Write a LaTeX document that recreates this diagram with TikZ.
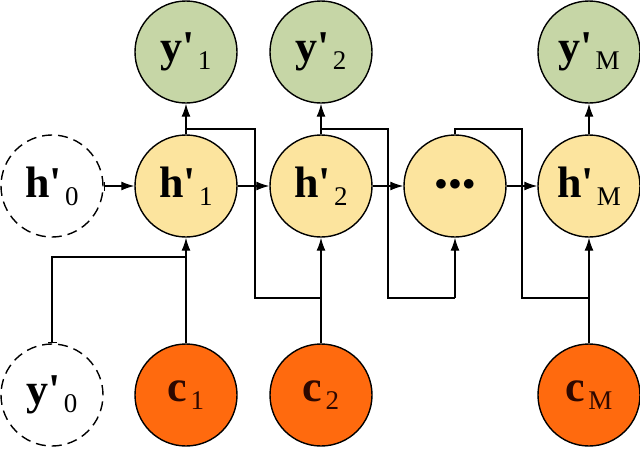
\documentclass[tikz,border=0pt]{standalone}
\usepackage{fontspec}
\newfontfamily\lab{Liberation Serif}
\usetikzlibrary{arrows.meta}
\definecolor{cgreen}{RGB}{198,214,166}
\definecolor{cyellow}{RGB}{252,228,158}
\definecolor{corange}{RGB}{255,106,14}
\newcommand{\nlab}[2]{{\lab\fontsize{44}{44}\selectfont\bfseries #1}\hspace{3pt}\raisebox{-8pt}{\lab\fontsize{27}{27}\selectfont #2}}
\begin{document}
\begin{tikzpicture}[x=1pt,y=-1pt,
  every node/.style={inner sep=0pt},
  base/.style={circle,draw=black,line width=1.4pt,minimum size=102pt},
  ynode/.style={base,fill=cgreen},
  hnode/.style={base,fill=cyellow},
  cnode/.style={base,fill=corange,text={rgb,255:red,45;green,8;blue,0}},
  ghost/.style={base,dash pattern=on 10pt off 6pt,fill=white},
  conn/.style={line width=1.3pt},
  arr/.style={conn,-{Latex[length=13pt,width=9pt]}},
  bararr/.style={conn,{Bar[width=9pt]}-{Latex[length=13pt,width=9pt]}}]
\useasboundingbox (0,0) rectangle (640,448);
% nodes
\node[ynode] (y1) at (186,52) {\nlab{y'}{1}};
\node[ynode] (y2) at (321,52) {\nlab{y'}{2}};
\node[ynode] (yM) at (589,52) {\nlab{y'}{M}};
\node[ghost] (h0) at (52,186) {\nlab{h'}{0}};
\node[hnode] (h1) at (186,186) {\nlab{h'}{1}};
\node[hnode] (h2) at (321,186) {\nlab{h'}{2}};
\node[hnode] (hd) at (455,186) {\lab\fontsize{46}{46}\selectfont\bfseries\raisebox{2pt}{$\bullet\mkern-3mu\bullet\mkern-3mu\bullet$}};
\node[hnode] (hM) at (589,186) {\nlab{h'}{M}};
\node[ghost] (y0) at (52,395) {\nlab{y'}{0}};
\node[cnode] (c1) at (186,395) {\nlab{c}{1}};
\node[cnode] (c2) at (321,395) {\nlab{c}{2}};
\node[cnode] (cM) at (589,395) {\nlab{c}{M}};
% coordinates
\coordinate (t1) at (186,129);
\coordinate (t2) at (321,129);
\coordinate (t3) at (455,129);
\coordinate (a1) at (255,129);
\coordinate (a2) at (388,129);
\coordinate (a3) at (522,129);
\coordinate (b1) at (255,298);
\coordinate (b2) at (388,298);
\coordinate (b3) at (522,298);
\coordinate (m2) at (321,298);
\coordinate (m3) at (455,298);
\coordinate (mM) at (589,298);
\coordinate (u0) at (52,257);
\coordinate (u1) at (186,257);
% connectors
\draw[bararr] (h0) -- (h1);
\draw[arr] (h1) -- (h2);
\draw[arr] (h2) -- (hd);
\draw[arr] (hd) -- (hM);
\draw[arr] (h1) -- (y1);
\draw[arr] (h2) -- (y2);
\draw[arr] (hM) -- (yM);
\draw[arr] (c1) -- (h1);
\draw[arr] (c2) -- (h2);
\draw[arr] (cM) -- (hM);
\draw[conn] (t1) -- (a1) -- (b1) -- (m2);
\draw[conn] (h2.north) -- (t2) -- (a2) -- (b2) -- (m3);
\draw[arr] (m3) -- (hd);
\draw[conn] (hd.north) -- (t3) -- (a3) -- (b3) -- (mM);
\draw[conn,{Bar[width=9pt]}-] (y0.north) -- (u0) -- (u1);
\end{tikzpicture}
\end{document}
